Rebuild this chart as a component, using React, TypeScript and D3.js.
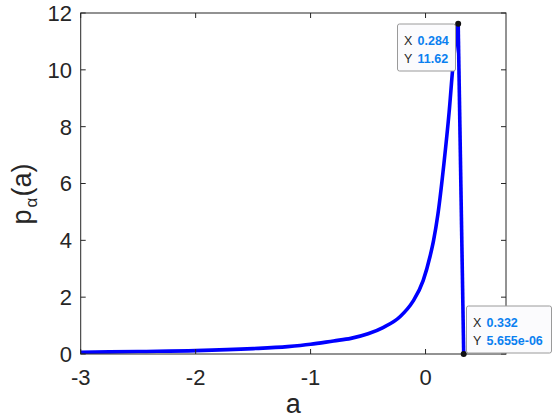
import React from "react";
import * as d3 from "d3";

// Rising branch of p_alpha(a)
const riseA = [-3, -2.5, -2, -1.5, -1.2, -1, -0.8, -0.65, -0.5, -0.37, -0.22, -0.11, -0.02, 0.04, 0.07, 0.107, 0.16, 0.205, 0.24, 0.284];
const riseP = [0.06, 0.09, 0.12, 0.19, 0.26, 0.34, 0.46, 0.55, 0.71, 0.93, 1.32, 1.85, 2.59, 3.45, 4.0, 4.9, 6.7, 8.5, 10.2, 11.62];
// Drop branch
const dropA = [0.284, 0.332];
const dropP = [11.62, 0.000005655];

const xTicks = [-3, -2, -1, 0];
const yTicks = [0, 2, 4, 6, 8, 10, 12];

const tipPeak = { x: "0.284", y: "11.62" };
const tipLow = { x: "0.332", y: "5.655e-06" };

const W = 560;
const H = 420;
const L = 80.7, R = 506, T = 13, B = 354;
const FONT = "'Liberation Sans', Arial, Helvetica, sans-serif";
const AX = "#262626";
const TIPBLUE = "#0a80f0";

export default function App() {
  const x = d3.scaleLinear().domain([-3, 0.7]).range([L, R]);
  const y = d3.scaleLinear().domain([0, 12]).range([B, T]);

  const rise = riseA.map((a, i) => [a, riseP[i]] as [number, number]);
  const drop = dropA.map((a, i) => [a, dropP[i]] as [number, number]);

  const lineSmooth = d3
    .line<[number, number]>()
    .x((d) => x(d[0]))
    .y((d) => y(d[1]))
    .curve(d3.curveMonotoneX);
  const lineStraight = d3
    .line<[number, number]>()
    .x((d) => x(d[0]))
    .y((d) => y(d[1]));

  const tl = 5;

  const peakX = x(dropA[0]);
  const peakY = y(dropP[0]);
  const lowX = x(dropA[1]);
  const lowY = y(dropP[1]);

  return (
    <svg
      width={W}
      height={H}
      style={{ position: "absolute", left: 0, top: 0, background: "#fff" }}
      fontFamily={FONT}
    >
      <rect x={0} y={0} width={W} height={H} fill="#fff" />
      {/* curve */}
      <path d={lineSmooth(rise) || ""} fill="none" stroke="#0000ff" strokeWidth={3.6} strokeLinejoin="round" />
      <path d={lineStraight(drop) || ""} fill="none" stroke="#0000ff" strokeWidth={3.6} strokeLinecap="butt" />

      {/* axes box */}
      <rect x={L} y={T} width={R - L} height={B - T} fill="none" stroke={AX} strokeWidth={1} />
      {xTicks.map((t) => (
        <g key={"x" + t}>
          <line x1={x(t)} x2={x(t)} y1={B} y2={B - tl} stroke={AX} />
          <line x1={x(t)} x2={x(t)} y1={T} y2={T + tl} stroke={AX} />
          <text x={x(t)} y={385} textAnchor="middle" fontSize={22} fill={AX}>
            {t < 0 ? "-" + Math.abs(t) : String(t)}
          </text>
        </g>
      ))}
      {yTicks.map((t) => (
        <g key={"y" + t}>
          <line x1={L} x2={L + tl} y1={y(t)} y2={y(t)} stroke={AX} />
          <line x1={R} x2={R - tl} y1={y(t)} y2={y(t)} stroke={AX} />
          <text x={72} y={y(t)} dy="0.36em" textAnchor="end" fontSize={22} fill={AX}>
            {String(t)}
          </text>
        </g>
      ))}

      {/* axis labels */}
      <text x={(L + R) / 2} y={413} textAnchor="middle" fontSize={27} fill={AX}>
        a
      </text>
      <g transform={`translate(31, 194) rotate(-90)`}>
        <text x={0} y={0} textAnchor="middle" fontSize={27} fill={AX}>
          p
          <tspan fontSize={17} dy={6} dx={2}>α</tspan>
          <tspan dy={-6} dx={1}>(a)</tspan>
        </text>
      </g>

      {/* data tips */}
      <g>
        <rect x={397.5} y={24} width={58} height={47} rx={2} fill="#fbfbfd" stroke="#9a9a9a" strokeWidth={1} />
        <text x={404} y={45} fontSize={12.5} fill="#262626">X</text>
        <text x={417.5} y={45} fontSize={12.5} fill={TIPBLUE} fontWeight="bold">{tipPeak.x}</text>
        <text x={404} y={63} fontSize={12.5} fill="#262626">Y</text>
        <text x={417.5} y={63} fontSize={12.5} fill={TIPBLUE} fontWeight="bold">{tipPeak.y}</text>
      </g>
      <g>
        <rect x={466.5} y={306} width={85} height={47} rx={2} fill="#fbfbfd" stroke="#9a9a9a" strokeWidth={1} />
        <text x={473} y={327} fontSize={12.5} fill="#262626">X</text>
        <text x={486.5} y={327} fontSize={12.5} fill={TIPBLUE} fontWeight="bold">{tipLow.x}</text>
        <text x={473} y={345} fontSize={12.5} fill="#262626">Y</text>
        <text x={486.5} y={345} fontSize={12.5} fill={TIPBLUE} fontWeight="bold">{tipLow.y}</text>
      </g>
      <circle cx={peakX} cy={peakY} r={3} fill="#111" />
      <circle cx={lowX} cy={lowY} r={3} fill="#111" />
    </svg>
  );
}
